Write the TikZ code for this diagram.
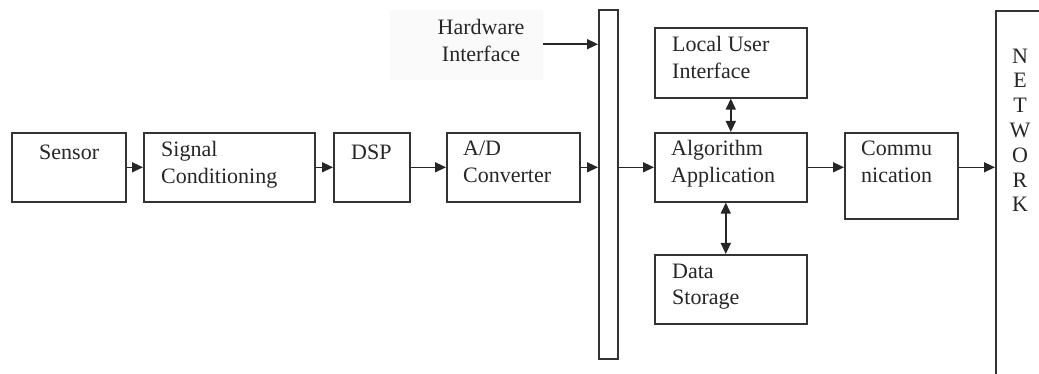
\documentclass[tikz,border=0pt]{standalone}
\usepackage{fontspec}
\setmainfont{Liberation Serif}
\usetikzlibrary{arrows.meta}
\begin{document}
\begin{tikzpicture}[x=1pt,y=-1pt,
  box/.style={draw=black!80, line width=1.6pt, minimum height=69pt, anchor=north west, inner sep=0pt},
  txt/.style={font=\fontsize{22}{27}\selectfont, align=left, inner sep=0pt, text=black!85},
  arr/.style={line width=1.5pt, draw=black!85, -{Triangle[length=11pt,width=10pt]}},
  dbl/.style={line width=1.5pt, draw=black!85, {Triangle[length=11pt,width=10pt]}-{Triangle[length=11pt,width=10pt]}}]
\useasboundingbox[fill=white] (0,0) rectangle (1039,374);
\clip (0,0) rectangle (1039,374);
% boxes
\node[box, minimum width=114pt] (sensor) at (11,132) {};
\node[box, minimum width=171pt] (sig) at (143,132) {};
\node[box, minimum width=76pt] (dsp) at (333,132) {};
\node[box, minimum width=133pt] (ad) at (446,132) {};
\node[box, minimum width=19pt, minimum height=349pt] (bar) at (598,9) {};
\node[box, minimum width=152pt, minimum height=70pt] (lui) at (654,27) {};
\node[box, minimum width=152pt] (alg) at (654,132) {};
\node[box, minimum width=152pt] (ds) at (654,254) {};
\node[box, minimum width=113pt, minimum height=86pt] (comm) at (844,132) {};
\node[box, minimum width=60pt, minimum height=380pt] (net) at (995,10) {};
\node[fill=black!2, minimum width=153pt, minimum height=70pt, anchor=north west, inner sep=0pt] (hw) at (390,10) {};
% texts (base anchor = baseline of last line)
\node[txt, anchor=base west] (sensort) at (39,160) {Sensor};
\node[txt, anchor=base west] (sigt) at (161,184) {Signal\\Conditioning};
\node[txt, anchor=base west] (dspt) at (351,160) {DSP};
\node[txt, anchor=base west] (adt) at (463,183) {A/D\\Converter};
\node[txt, anchor=base, align=center] (hwt) at (481,62) {Hardware\\Interface};
\node[txt, anchor=base west] (luit) at (672,79) {Local User\\Interface};
\node[txt, anchor=base west] (algt) at (671,183) {Algorithm\\Application};
\node[txt, anchor=base west] (dst) at (672,305) {Data\\Storage};
\node[txt, anchor=base west] (commt) at (861,183) {Commu\\nication};
\node[txt, anchor=base, align=center, font=\fontsize{22}{24.8}\selectfont] (nett) at (1020,212) {N\\E\\T\\W\\O\\R\\K};
% connectors
\draw[arr] (sensor.east) -- (sig.west);
\draw[arr] (sig.east) -- (dsp.west);
\draw[arr] (dsp.east) -- (ad.west);
\draw[arr] (ad.east) -- (ad.east -| bar.west);
\draw[arr] ([yshift=1pt]hw.east) -- ([yshift=1pt]hw.east -| bar.west);
\draw[arr] (alg.west -| bar.east) -- (alg.west);
\draw[arr] (alg.east) -- (alg.east -| comm.west);
\draw[arr] (alg.east -| comm.east) -- (alg.east -| net.west);
\draw[dbl] (lui.south) -- (alg.north);
\draw[dbl] ([xshift=-5pt]alg.south) -- ([xshift=-5pt]ds.north);
\end{tikzpicture}
\end{document}
